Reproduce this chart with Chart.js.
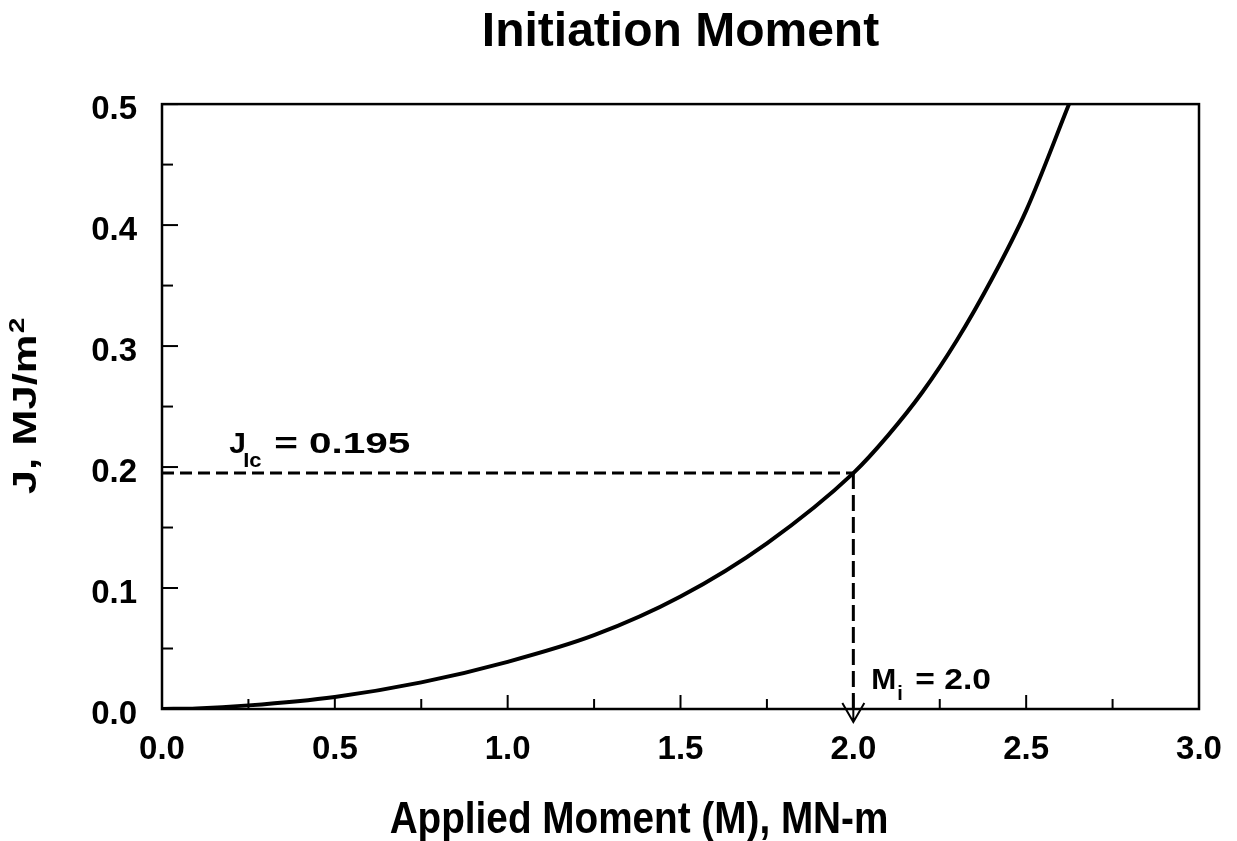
<!DOCTYPE html>
<html>
<head>
<meta charset="utf-8">
<title>Initiation Moment</title>
<script src="https://cdn.jsdelivr.net/npm/chart.js@4"></script>
<style>
  html, body { margin: 0; padding: 0; background: #fff; }
  canvas { display: block; }
</style>
</head>
<body>
<canvas id="jChart" width="1237" height="841"></canvas>
<script>
// J vs applied moment
const moment = [0, 0.1, 0.25, 0.5, 0.75, 1.0, 1.25, 1.5, 1.75, 2.0, 2.1, 2.2, 2.3, 2.4, 2.5, 2.624];
const jValues = [0, 0.0005, 0.003, 0.010, 0.022, 0.039, 0.061, 0.093, 0.137, 0.195, 0.226, 0.262, 0.305, 0.355, 0.412, 0.5];

const jIc = 0.195;  // critical J
const mI = 2.0;     // initiation moment

const xRange = [0, 3];
const yRange = [0, 0.5];
const xStep = 0.25, xLabelStep = 0.5;
const yStep = 0.05, yLabelStep = 0.1;

const titleText = 'Initiation Moment';
const xTitle = 'Applied Moment (M), MN-m';
const yTitle = ['J, MJ/m', '2'];   // base text + superscript

const FONT = '"Liberation Sans", Arial, Helvetica, sans-serif';

function onStep(v, step) {
    const r = v / step;
    return Math.abs(r - Math.round(r)) < 1e-6;
}

function textWidth(ctx, text, size) {
    ctx.font = `bold ${size}px ${FONT}`;
    return ctx.measureText(text).width;
}

// text with a horizontal stretch (in its own direction)
function stretchedText(ctx, text, x, y, size, sx) {
    ctx.save();
    ctx.font = `bold ${size}px ${FONT}`;
    ctx.translate(x, y);
    ctx.scale(sx, 1);
    ctx.fillText(text, 0, 0);
    ctx.restore();
}

const framePlugin = {
    id: 'frameAndGuides',
    afterDatasetsDraw(chart) {
        const {ctx, chartArea: a, scales: {x, y}} = chart;
        ctx.save();
        ctx.strokeStyle = '#000';
        ctx.fillStyle = '#000';

        const px = x.getPixelForValue(mI);
        const py = y.getPixelForValue(jIc);
        const p0 = y.getPixelForValue(0);

        // dashed guide lines
        ctx.lineWidth = 3;
        ctx.setLineDash([12, 6]);
        ctx.beginPath();
        ctx.moveTo(a.left, py);
        ctx.lineTo(px, py);
        ctx.stroke();
        ctx.setLineDash([16, 6]);
        ctx.beginPath();
        ctx.moveTo(px, py);
        ctx.lineTo(px, p0);
        ctx.stroke();
        ctx.setLineDash([]);

        // arrow under the axis
        ctx.lineWidth = 2;
        ctx.beginPath();
        ctx.moveTo(px, p0);
        ctx.lineTo(px, p0 + 13);
        ctx.moveTo(px - 11, p0 - 6);
        ctx.lineTo(px, p0 + 13);
        ctx.lineTo(px + 11, p0 - 6);
        ctx.stroke();

        // box
        ctx.lineWidth = 2.5;
        ctx.strokeRect(a.left, a.top, a.width, a.height);

        // inward tick marks
        ctx.lineWidth = 2;
        x.ticks.forEach(t => {
            const X = x.getPixelForValue(t.value);
            const len = onStep(t.value, xLabelStep) ? 14 : 10;
            ctx.beginPath();
            ctx.moveTo(X, a.bottom);
            ctx.lineTo(X, a.bottom - len);
            ctx.stroke();
        });
        y.ticks.forEach(t => {
            const Y = y.getPixelForValue(t.value);
            const len = onStep(t.value, yLabelStep) ? 16 : 11;
            ctx.beginPath();
            ctx.moveTo(a.left, Y);
            ctx.lineTo(a.left + len, Y);
            ctx.stroke();
        });

        // annotations
        ctx.textBaseline = 'alphabetic';
        ctx.textAlign = 'left';
        const jx = x.getPixelForValue(0.2) - 2;
        const jy = py - 20;
        stretchedText(ctx, 'J', jx, jy, 30, 1.0);
        stretchedText(ctx, 'Ic', jx + 14, jy + 14, 20, 1.1);
        stretchedText(ctx, '= 0.195', jx + 45, jy, 30, 1.35);

        const mx = px + 18;
        const my = p0 - 20;
        stretchedText(ctx, 'M', mx, my, 30, 1.0);
        stretchedText(ctx, 'i', mx + 26, my + 11, 20, 1.0);
        stretchedText(ctx, '= 2.0', mx + 44, my, 30, 1.12);

        // x axis title (condensed, sits a little left of centre in the original)
        const xs = 0.86, xSize = 45;
        const xw = textWidth(ctx, xTitle, xSize) * xs;
        stretchedText(ctx, xTitle, 639 - xw / 2, 833, xSize, xs);

        // y axis title, rotated, stretched along its length
        const ys = 1.28, ySize = 34, supSize = 22;
        const w1 = textWidth(ctx, yTitle[0], ySize);
        const w2 = textWidth(ctx, yTitle[1], supSize);
        const total = (w1 + w2) * ys;
        const cy = (a.top + a.bottom) / 2;
        ctx.save();
        ctx.translate(36, cy + total / 2);
        ctx.rotate(-Math.PI / 2);
        ctx.scale(ys, 1);
        ctx.font = `bold ${ySize}px ${FONT}`;
        ctx.fillText(yTitle[0], 0, 0);
        ctx.font = `bold ${supSize}px ${FONT}`;
        ctx.fillText(yTitle[1], w1 + 1, -12);
        ctx.restore();

        ctx.restore();
    }
};

Chart.defaults.color = '#000';
Chart.defaults.font.family = FONT;

new Chart(document.getElementById('jChart'), {
    type: 'scatter',
    data: {
        datasets: [{
            label: 'J',
            data: moment.map((m, i) => ({x: m, y: jValues[i]})),
            showLine: true,
            borderColor: '#000',
            borderWidth: 4,
            pointRadius: 0,
            cubicInterpolationMode: 'monotone'
        }]
    },
    options: {
        responsive: false,
        animation: false,
        devicePixelRatio: 1,
        layout: { padding: { left: 0, right: 38, top: 0, bottom: 0 } },
        plugins: {
            legend: { display: false },
            tooltip: { enabled: false },
            title: {
                display: true,
                text: titleText,
                fullSize: false,
                color: '#000',
                font: { size: 48, weight: 'bold', family: FONT },
                padding: { top: 3.5, bottom: 43 }
            }
        },
        scales: {
            x: {
                type: 'linear',
                min: xRange[0],
                max: xRange[1],
                grid: { display: false, drawTicks: false },
                border: { display: false },
                ticks: {
                    stepSize: xStep,
                    autoSkip: false,
                    maxRotation: 0,
                    padding: 21,
                    font: { size: 33, weight: 'bold' },
                    callback: v => onStep(v, xLabelStep) ? v.toFixed(1) : ''
                },
                afterFit: s => {
                    s.height = 132;
                    s.paddingLeft = 0;
                    s.paddingRight = 0;
                }
            },
            y: {
                type: 'linear',
                min: yRange[0],
                max: yRange[1],
                grid: { display: false, drawTicks: false },
                border: { display: false },
                ticks: {
                    stepSize: yStep,
                    autoSkip: false,
                    padding: 25,
                    labelOffset: 6,
                    font: { size: 33, weight: 'bold' },
                    callback: v => onStep(v, yLabelStep) ? v.toFixed(1) : ''
                },
                afterFit: s => { s.width = 162; }
            }
        }
    },
    plugins: [framePlugin]
});
</script>
</body>
</html>
